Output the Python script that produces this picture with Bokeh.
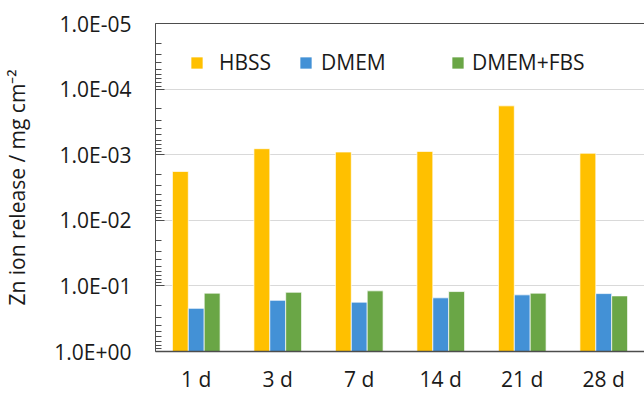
from bokeh.plotting import figure
from bokeh.models import (Range1d, FixedTicker, CustomJSTickFormatter, Legend,
                          LegendItem, CategoricalAxis, ColumnDataSource)
from bokeh.transform import dodge
from bokeh.embed import file_html
from bokeh.resources import INLINE

# Zn ion release (mg cm^-2) per immersion time and medium
days = ["1 d", "3 d", "7 d", "14 d", "21 d", "28 d"]
hbss = [1.8e-3, 8.1e-4, 9.1e-4, 8.9e-4, 1.8e-4, 9.5e-4]
dmem = [0.22, 0.166, 0.177, 0.152, 0.137, 0.131]
dmem_fbs = [0.129, 0.125, 0.119, 0.122, 0.129, 0.142]

decades = [1e-5, 1e-4, 1e-3, 1e-2, 1e-1, 1.0]
minor = [m * d for d in decades[:-1] for m in range(2, 10)]

FONT = "Open Sans"
TXT = "#1a1a1a"
AXIS = "#4d4d4d"

src = ColumnDataSource(dict(day=days, hbss=hbss, dmem=dmem, fbs=dmem_fbs))

p = figure(width=644, height=395, x_range=days, y_range=Range1d(1.0, 1e-5),
           y_axis_type="log", output_backend="svg", toolbar_location=None,
           min_border_left=155, min_border_right=0, min_border_top=23,
           min_border_bottom=43)
p.outline_line_color = None
p.background_fill_color = "white"
p.border_fill_color = "white"

w = 0.195
bars = []
for off, col, color in [(-w, "hbss", "#FFC000"), (0.0, "dmem", "#4391D6"),
                        (w, "fbs", "#6AA646")]:
    r = p.vbar(x=dodge("day", off, range=p.x_range), top=col, bottom=1.0,
               width=w, source=src, fill_color=color, line_color="white",
               line_alpha=0.7, line_width=1)
    bars.append(r)

# y axis: reversed log scale with decade labels like 1.0E-03
ya = p.yaxis[0]
ya.ticker = FixedTicker(ticks=decades, minor_ticks=minor)
ya.formatter = CustomJSTickFormatter(code="""
    const e = Math.round(Math.log10(tick));
    const a = Math.abs(e);
    return "1.0E" + (e < 0 ? "-" : "+") + (a < 10 ? "0" : "") + a;
""")
ya.axis_label = "Zn ion release / mg cm\u207b\u00b2"
ya.axis_label_text_font = FONT
ya.axis_label_text_font_size = "21px"
ya.axis_label_text_font_style = "normal"
ya.axis_label_text_color = TXT
ya.axis_label_standoff = 20
ya.major_label_text_font = FONT
ya.major_label_text_font_size = "21px"
ya.major_label_text_color = TXT
ya.major_label_standoff = 24
ya.major_tick_in = 9
ya.major_tick_out = 0
ya.minor_tick_in = 6
ya.minor_tick_out = 0
ya.axis_line_color = AXIS
ya.major_tick_line_color = AXIS
ya.minor_tick_line_color = AXIS

xa = p.xaxis[0]
xa.major_label_text_font = FONT
xa.major_label_text_font_size = "21px"
xa.major_label_text_color = TXT
xa.major_tick_line_color = None
xa.major_tick_in = 0
xa.major_tick_out = 0
xa.major_label_standoff = 13
xa.axis_line_color = AXIS
xa.axis_line_width = 1.5

# top edge of the plot area: a bare axis line with no ticks or labels
top = CategoricalAxis(ticker=FixedTicker(ticks=[]), major_tick_line_color=None,
                      major_tick_in=0, major_tick_out=0, axis_line_color=AXIS,
                      major_label_standoff=0)
p.add_layout(top, "above")

p.xgrid.grid_line_color = None
p.ygrid.grid_line_color = "#d9d9d9"
p.ygrid.grid_line_width = 1

# legend entries laid out in a row near the top
for label, r, x, standoff in [("HBSS", bars[0], 34, 15), ("DMEM", bars[1], 143, 8),
                              ("DMEM+FBS", bars[2], 295, 7)]:
    lg = Legend(items=[LegendItem(label=label, renderers=[r])], location=(x, 275),
                orientation="horizontal", padding=0, margin=0,
                border_line_color=None, background_fill_alpha=0,
                glyph_width=15, glyph_height=15, label_standoff=standoff,
                label_height=15, label_text_font=FONT, label_text_font_size="21px",
                label_text_color=TXT)
    p.add_layout(lg, "center")

open("out.html", "w").write(file_html(p, INLINE))
